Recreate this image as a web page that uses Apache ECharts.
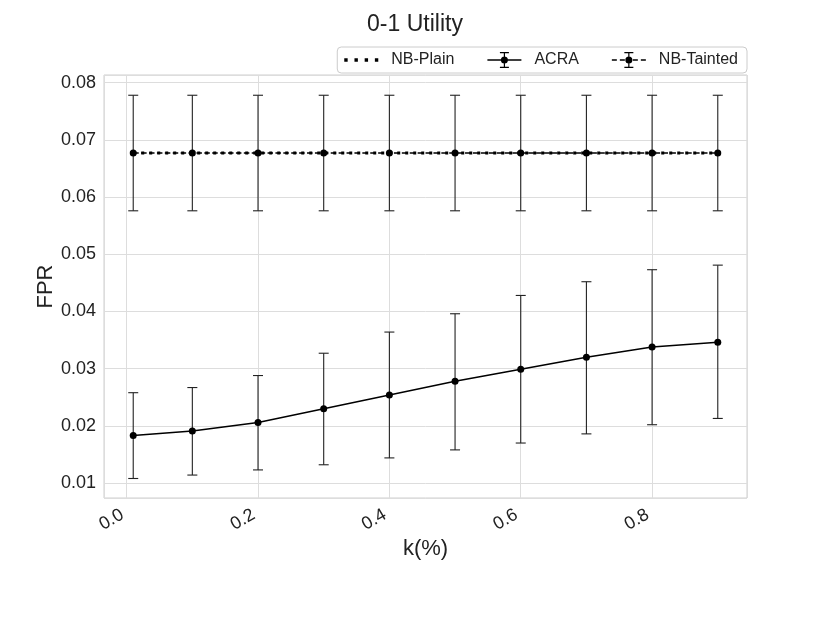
<!DOCTYPE html>
<html>
<head>
<meta charset="utf-8">
<title>0-1 Utility</title>
<script src="https://cdn.jsdelivr.net/npm/echarts@6/dist/echarts.min.js"></script>
<style>
  html, body { margin: 0; padding: 0; background: #fff; }
  #chart { width: 830px; height: 623px; }
</style>
</head>
<body>
<div id="chart"></div>
<script>
const kValues = [0.01, 0.1, 0.2, 0.3, 0.4, 0.5, 0.6, 0.7, 0.8, 0.9];

const acraMean = [0.0183, 0.0191, 0.0206, 0.0230, 0.0254, 0.0278, 0.0299, 0.0320, 0.0338, 0.0346];
const acraLow  = [0.0108, 0.0114, 0.0123, 0.0132, 0.0144, 0.0158, 0.0170, 0.0186, 0.0202, 0.0213];
const acraHigh = [0.0258, 0.0267, 0.0288, 0.0327, 0.0364, 0.0396, 0.0428, 0.0452, 0.0473, 0.0481];

const nbTaintedMean = [0.0677, 0.0677, 0.0677, 0.0677, 0.0677, 0.0677, 0.0677, 0.0677, 0.0677, 0.0677];
const nbTaintedLow  = [0.0576, 0.0576, 0.0576, 0.0576, 0.0576, 0.0576, 0.0576, 0.0576, 0.0576, 0.0576];
const nbTaintedHigh = [0.0778, 0.0778, 0.0778, 0.0778, 0.0778, 0.0778, 0.0778, 0.0778, 0.0778, 0.0778];

const nbPlainMean = [0.0677, 0.0677, 0.0677, 0.0677, 0.0677, 0.0677, 0.0677, 0.0677, 0.0677, 0.0677];

const FONT = "'Liberation Sans', Arial, Helvetica, sans-serif";

// legend icons (34 x 16 box)
const barPath = "M16.4 0 H17.6 V16 H16.4 Z M12.5 0 H21.5 V1.2 H12.5 Z M12.5 14.8 H21.5 V16 H12.5 Z " +
  "M20.5 8 A3.5 3.5 0 1 1 13.5 8 A3.5 3.5 0 1 1 20.5 8 Z";
const iconAcra = "path://M0 7.3 H34 V8.7 H0 Z " + barPath;
const iconTainted = "path://M0 7.3 H5 V8.7 H0 Z M8 7.3 H13 V8.7 H8 Z M21 7.3 H26 V8.7 H21 Z M29 7.3 H34 V8.7 H29 Z " + barPath;
const iconPlain = "path://M0 6.3 H3.4 V9.7 H0 Z M10.2 6.3 H13.6 V9.7 H10.2 Z M20.4 6.3 H23.8 V9.7 H20.4 Z M30.6 6.3 H34 V9.7 H30.6 Z";

const pairs = (xs, ys) => xs.map((x, i) => [x, ys[i]]);
const bars = (xs, lo, hi) => xs.map((x, i) => [x, lo[i], hi[i]]);

function renderErrorBar(params, api){
  const x = api.value(0);
  const lo = api.coord([x, api.value(1)]);
  const hi = api.coord([x, api.value(2)]);
  const cap = 5;
  const style = { stroke: "#222", lineWidth: 1.1 };
  return {
    type: "group",
    children: [
      { type: "line", shape: { x1: lo[0], y1: lo[1], x2: hi[0], y2: hi[1] }, style },
      { type: "line", shape: { x1: hi[0] - cap, y1: hi[1], x2: hi[0] + cap, y2: hi[1] }, style },
      { type: "line", shape: { x1: lo[0] - cap, y1: lo[1], x2: lo[0] + cap, y2: lo[1] }, style }
    ]
  };
}

const chart = echarts.init(document.getElementById("chart"), null, { renderer: "canvas" });

chart.setOption({
  animation: false,
  backgroundColor: "#fff",
  textStyle: { fontFamily: FONT },
  title: {
    text: "0-1 Utility",
    left: "center",
    top: 8,
    textStyle: { fontFamily: FONT, fontSize: 23, fontWeight: "normal", color: "#222" }
  },
  legend: {
    right: 83,
    top: 47,
    padding: [5, 9, 5, 7],
    itemWidth: 34,
    itemHeight: 16,
    itemGap: 33,
    borderColor: "#cccccc",
    borderWidth: 1,
    borderRadius: 4,
    backgroundColor: "#fff",
    textStyle: { fontFamily: FONT, fontSize: 16, color: "#222", padding: [0, 0, 0, 8] },
    data: [
      { name: "NB-Plain", icon: iconPlain },
      { name: "ACRA", icon: iconAcra },
      { name: "NB-Tainted", icon: iconTainted }
    ]
  },
  grid: {
    left: 104,
    right: 83,
    top: 75,
    bottom: 125,
    show: true,
    borderColor: "#cfcfcf",
    borderWidth: 1
  },
  xAxis: {
    type: "value",
    min: -0.0345,
    max: 0.9445,
    splitNumber: 5,
    name: "k(%)",
    nameLocation: "middle",
    nameGap: 40,
    nameMoveOverlap: false,
    nameTextStyle: { fontFamily: FONT, fontSize: 22, color: "#222" },
    axisLine: { show: false },
    axisTick: { show: false },
    axisLabel: {
      rotate: 30,
      margin: 13,
      fontSize: 18,
      color: "#222",
      fontFamily: FONT,
      padding: [0, 5, 0, 0],
      showMinLabel: false,
      showMaxLabel: false,
      formatter: (v) => v.toFixed(1)
    },
    splitLine: { show: true, lineStyle: { color: "#dddddd", width: 1 } }
  },
  yAxis: {
    type: "value",
    min: 0.00739,
    max: 0.08134,
    splitNumber: 7,
    name: "FPR",
    nameLocation: "middle",
    nameGap: 47,
    nameMoveOverlap: false,
    nameTextStyle: { fontFamily: FONT, fontSize: 22, color: "#222" },
    axisLine: { show: false },
    axisTick: { show: false },
    axisLabel: {
      margin: 8,
      fontSize: 18,
      color: "#222",
      fontFamily: FONT,
      showMinLabel: false,
      showMaxLabel: false,
      formatter: (v) => v.toFixed(2)
    },
    splitLine: { show: true, lineStyle: { color: "#dddddd", width: 1 } }
  },
  series: [
    {
      name: "ACRA-err",
      type: "custom",
      renderItem: renderErrorBar,
      encode: { x: 0, y: [1, 2] },
      z: 1,
      silent: true,
      data: bars(kValues, acraLow, acraHigh)
    },
    {
      name: "NB-Tainted-err",
      type: "custom",
      renderItem: renderErrorBar,
      encode: { x: 0, y: [1, 2] },
      z: 1,
      silent: true,
      data: bars(kValues, nbTaintedLow, nbTaintedHigh)
    },
    {
      name: "ACRA",
      type: "line",
      color: "#000",
      symbol: "circle",
      symbolSize: 7,
      lineStyle: { color: "#000", width: 1.5 },
      itemStyle: { color: "#000" },
      z: 3,
      data: pairs(kValues, acraMean)
    },
    {
      name: "NB-Tainted",
      type: "line",
      color: "#000",
      symbol: "circle",
      symbolSize: 7,
      lineStyle: { color: "#000", width: 1.5, type: [5.5, 2.4] },
      itemStyle: { color: "#000" },
      z: 3,
      data: pairs(kValues, nbTaintedMean)
    },
    {
      name: "NB-Plain",
      type: "line",
      color: "#000",
      symbol: "none",
      lineStyle: { color: "#000", width: 3, type: [3, 5] },
      z: 4,
      data: pairs(kValues, nbPlainMean)
    }
  ]
});
</script>
</body>
</html>
